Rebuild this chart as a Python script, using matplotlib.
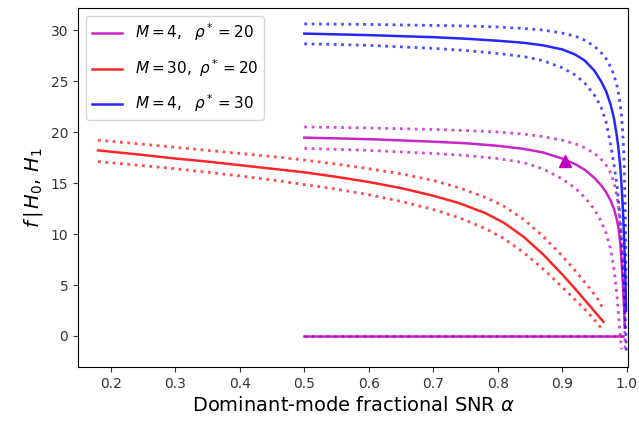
import numpy as np
import matplotlib.pyplot as plt

# M=30, rho*=20 (red)
alpha_r = [0.18, 0.25, 0.3, 0.35, 0.4, 0.45, 0.5, 0.55, 0.6, 0.65, 0.7,
           0.74, 0.78, 0.81, 0.84, 0.87, 0.9, 0.92, 0.94, 0.955, 0.964]
f_r = [18.2, 17.75, 17.4, 17.1, 16.75, 16.4, 16.05, 15.6, 15.1, 14.5, 13.75,
       13.03, 12.07, 11.08, 9.73, 8.02, 6.04, 4.62, 3.16, 2.05, 1.38]
f_r_up = [19.2, 18.8, 18.5, 18.2, 17.9, 17.6, 17.25, 16.85, 16.4, 15.9, 15.25,
          14.53, 13.61, 12.71, 11.45, 9.8, 7.85, 6.41, 4.89, 3.65, 2.6]
f_r_lo = [17.1, 16.7, 16.4, 16.05, 15.7, 15.3, 14.85, 14.4, 13.85, 13.2, 12.4,
          11.6, 10.56, 9.54, 8.19, 6.6, 4.8, 3.56, 2.3, 1.2, 0.5]

# M=4, rho*=20 (magenta)
alpha_m = [0.5, 0.6, 0.7, 0.75, 0.8, 0.84, 0.87, 0.9, 0.92, 0.935, 0.95,
           0.96, 0.968, 0.975, 0.98, 0.984, 0.987, 0.99, 0.992, 0.994, 0.996, 0.997]
f_m = [19.45, 19.3, 19.05, 18.9, 18.65, 18.35, 18.0, 17.4, 16.85, 16.3, 15.5,
       14.8, 14.1, 13.3, 12.5, 11.6, 10.7, 9.2, 7.3, 5.2, 2.6, 0.8]
alpha_m_up = [0.5, 0.6, 0.7, 0.75, 0.8, 0.84, 0.87, 0.9, 0.92, 0.935, 0.95,
              0.96, 0.968, 0.975, 0.98, 0.984, 0.987, 0.99, 0.992, 0.994, 0.996, 0.997, 0.9975]
f_m_up = [20.5, 20.4, 20.25, 20.15, 20.0, 19.8, 19.55, 19.2, 18.85, 18.45, 17.9,
          17.35, 16.75, 16.0, 15.1, 14.0, 12.7, 10.8, 9.0, 6.8, 3.8, 1.5, -1.3]
alpha_m_lo = [0.5, 0.6, 0.7, 0.75, 0.8, 0.84, 0.87, 0.9, 0.92, 0.935, 0.95,
              0.96, 0.968, 0.975, 0.98, 0.984, 0.987, 0.99, 0.992]
f_m_lo = [18.4, 18.2, 17.9, 17.7, 17.4, 17.0, 16.4, 15.4, 14.5, 13.6, 12.4,
          11.3, 10.1, 8.5, 6.7, 4.5, 2.4, 0.0, -1.3]

# M=4, rho*=30 (blue)
alpha_b = [0.5, 0.6, 0.7, 0.75, 0.8, 0.84, 0.87, 0.9, 0.92, 0.935, 0.95, 0.96,
           0.968, 0.975, 0.98, 0.984, 0.987, 0.99, 0.992, 0.994, 0.996, 0.998, 0.999]
f_b = [29.65, 29.5, 29.3, 29.15, 28.95, 28.75, 28.5, 28.1, 27.6, 27.0, 26.0, 25.0,
       24.0, 22.7, 21.4, 19.9, 18.5, 16.6, 14.8, 12.5, 9.5, 5.5, 2.5]
alpha_b_up = alpha_b
f_b_up = [30.6, 30.55, 30.45, 30.4, 30.3, 30.15, 30.0, 29.7, 29.4, 29.0, 28.4, 27.8,
          27.2, 26.4, 25.6, 24.8, 23.9, 22.7, 21.5, 19.8, 17.0, 11.0, 5.0]
alpha_b_lo = [0.5, 0.6, 0.7, 0.75, 0.8, 0.84, 0.87, 0.9, 0.92, 0.935, 0.95, 0.96,
              0.968, 0.975, 0.98, 0.984, 0.987, 0.99, 0.992, 0.994, 0.996, 0.998, 0.9995]
f_b_lo = [28.65, 28.5, 28.2, 28.0, 27.7, 27.4, 27.0, 26.3, 25.6, 24.8, 23.6, 22.5,
          21.0, 18.8, 16.9, 15.2, 13.5, 11.3, 9.3, 7.0, 4.3, 1.5, -1.6]

# f | H0 for M=4, rho*=20
alpha_h0 = [0.5, 0.995]
f_h0 = [0.0, 0.0]

# arrow marker on magenta curve
alpha_mark, f_mark = 0.905, 17.2

fig, ax = plt.subplots(figsize=(6.39, 4.26), dpi=100)
fig.subplots_adjust(left=78/639, right=628/639, top=1-8/426, bottom=1-367/426)

lw, lwd = 1.8, 2.0
ax.plot(alpha_m, f_m, color='m', lw=lw, alpha=0.85, label=r'$M=4,\ \ \rho^*=20$')
ax.plot(alpha_r, f_r, color='r', lw=lw, alpha=0.85, label=r'$M=30,\ \rho^*=20$')
ax.plot(alpha_b, f_b, color='b', lw=lw, alpha=0.85, label=r'$M=4,\ \ \rho^*=30$')

ax.plot(alpha_m_up, f_m_up, color='m', ls=':', lw=lwd, alpha=0.7)
ax.plot(alpha_m_lo, f_m_lo, color='m', ls=':', lw=lwd, alpha=0.7)
ax.plot(alpha_r, f_r_up, color='r', ls=':', lw=lwd, alpha=0.7)
ax.plot(alpha_r, f_r_lo, color='r', ls=':', lw=lwd, alpha=0.7)
ax.plot(alpha_b_up, f_b_up, color='b', ls=':', lw=lwd, alpha=0.7)
ax.plot(alpha_b_lo, f_b_lo, color='b', ls=':', lw=lwd, alpha=0.7)

ax.plot(alpha_h0, f_h0, color='m', lw=lw, alpha=0.85)
ax.plot(alpha_h0, f_h0, color='m', ls=':', lw=lwd, alpha=0.7)
ax.plot([alpha_mark], [f_mark], marker='^', color='m', ms=8)

ax.set_xlim(0.149, 1.002)
ax.set_ylim(-3.04, 32.16)
ax.set_xticks([0.2, 0.3, 0.4, 0.5, 0.6, 0.7, 0.8, 0.9, 1.0])
ax.set_yticks([0, 5, 10, 15, 20, 25, 30])
ax.tick_params(labelsize=10, colors='#333333')
ax.set_xlabel(r'Dominant-mode fractional SNR $\alpha$', fontsize=14)
ax.set_ylabel(r'$f\,|\,H_0,\,H_1$', fontsize=14)
ax.legend(loc='upper left', fontsize=11, labelspacing=0.9)

fig.savefig('out.png', dpi=100)
